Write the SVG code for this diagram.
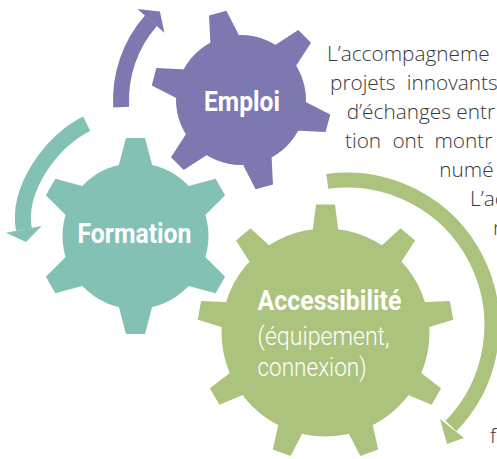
<svg xmlns="http://www.w3.org/2000/svg" width="497" height="459" viewBox="0 0 497 459">
  <style>
    .label { font-family: Roboto, "Liberation Sans", Arial, sans-serif; fill: #ffffff; }
    .bold { font-weight: 700; font-size: 28px; }
    .light { font-weight: 300; font-size: 25px; }
    .para { font-family: "Open Sans", "Noto Sans", "Liberation Sans", sans-serif; font-weight: 300; font-size: 20.8px; fill: #383838; }
    .shaft { fill: none; stroke-linecap: butt; }
  </style>
  <defs>
    <!-- one tooth per gear size, pointing along +x from the gear centre -->
    <polygon id="tooth-s" points="55,-16.5 90,-9 90,9 55,16.5"/>
    <polygon id="tooth-m" points="60,-19.6 98,-9.5 98,9.5 60,19.6"/>
    <polygon id="tooth-l" points="90,-14.4 128,-9.5 128,9.5 90,14.4"/>
  </defs>

  <!-- curved arrows running round the gears -->
  <g id="connectors">
    <path class="shaft" d="M121.2,107.1 A120,120 0 0 1 150.9,20.8" stroke="#7e78b0" stroke-width="16"/>
    <polygon points="159.9,11.6 164.4,32.7 137.4,8.9" fill="#7e78b0"/>

    <path class="shaft" d="M86.7,123.7 C50.7,140.9 16.7,190.2 23.9,229.4" stroke="#82c1b3" stroke-width="16"/>
    <polygon points="6,232.7 41.7,226 26,242" fill="#82c1b3"/>

    <path class="shaft" d="M327.3,181.4 A145,145 0 0 1 451,426" stroke="#abc37c" stroke-width="15"/>
    <polygon points="440,419 464,438 447,444" fill="#abc37c"/>
  </g>

  <g id="emploi" fill="#7e78b0">
    <g transform="translate(241 100)">
      <circle r="65"/>
      <use href="#tooth-s" transform="rotate(15)"/>
      <use href="#tooth-s" transform="rotate(75)"/>
      <use href="#tooth-s" transform="rotate(135)"/>
      <use href="#tooth-s" transform="rotate(195)"/>
      <use href="#tooth-s" transform="rotate(255)"/>
      <use href="#tooth-s" transform="rotate(315)"/>
    </g>
    <text class="label bold" x="242" y="110.7" text-anchor="middle" textLength="76" lengthAdjust="spacingAndGlyphs">Emploi</text>
  </g>

  <g id="formation" fill="#82c1b3">
    <g transform="translate(135.5 236)">
      <circle r="73"/>
      <use href="#tooth-m" transform="rotate(30)"/>
      <use href="#tooth-m" transform="rotate(90)"/>
      <use href="#tooth-m" transform="rotate(150)"/>
      <use href="#tooth-m" transform="rotate(210)"/>
      <use href="#tooth-m" transform="rotate(270)"/>
      <use href="#tooth-m" transform="rotate(330)"/>
    </g>
    <text class="label bold" x="134.5" y="243.3" text-anchor="middle" textLength="114" lengthAdjust="spacingAndGlyphs">Formation</text>
  </g>

  <g id="accessibilite" fill="#abc37c">
    <g transform="translate(325.5 332.5)">
      <circle r="104"/>
      <use href="#tooth-l" transform="rotate(270)"/>
      <use href="#tooth-l" transform="rotate(310)"/>
      <use href="#tooth-l" transform="rotate(350)"/>
      <use href="#tooth-l" transform="rotate(30)"/>
      <use href="#tooth-l" transform="rotate(70)"/>
      <use href="#tooth-l" transform="rotate(110)"/>
      <use href="#tooth-l" transform="rotate(150)"/>
      <use href="#tooth-l" transform="rotate(190)"/>
      <use href="#tooth-l" transform="rotate(230)"/>
    </g>
    <text class="label bold" x="257.5" y="309.5" textLength="144" lengthAdjust="spacingAndGlyphs" style="font-size:27px">Accessibilité</text>
    <text class="label light" x="257.5" y="345" textLength="132" lengthAdjust="spacingAndGlyphs">(équipement,</text>
    <text class="label light" x="257.5" y="375.5" textLength="109" lengthAdjust="spacingAndGlyphs">connexion)</text>
  </g>

  <!-- justified paragraph wrapped round the gears, running past the right edge -->
  <g id="paragraph" class="para">
    <text x="327" y="60.5">L’accompagneme</text>
    <text y="89.5"><tspan x="330">projets</tspan><tspan x="406.7">innovants</tspan></text>
    <text x="346.7" y="118.5">d’échanges entr</text>
    <text y="147.5"><tspan x="345">tion</tspan><tspan x="392.4">ont</tspan><tspan x="434.5">montr</tspan></text>
    <text x="439.3" y="176.5">numé</text>
    <text x="470" y="205.5">L’ac</text>
    <text x="493" y="234.5">n</text>
    <text x="490" y="443">f</text>
  </g>
</svg>
